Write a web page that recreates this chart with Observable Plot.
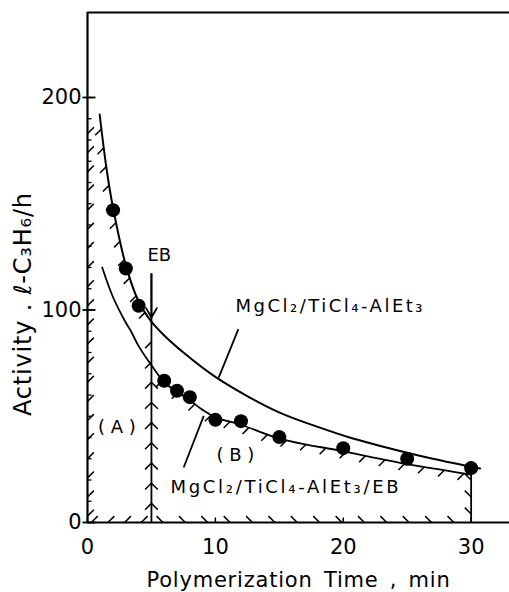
<!DOCTYPE html>
<html><head><meta charset="utf-8">
<script src="https://cdn.jsdelivr.net/npm/d3@7"></script>
<script src="https://cdn.jsdelivr.net/npm/@observablehq/plot@0.6"></script>
<style>html,body{margin:0;padding:0;background:#fff;} svg{display:block}</style>
</head><body><div id="chart"></div>
<script>
// Measured activity (filled circles)
const timeMin = [2, 3, 4, 6, 7, 8, 10, 12, 15, 20, 25, 30];
const activity = [147, 119.5, 102, 66.7, 62, 59, 48.3, 47.7, 40.2, 35, 30, 25.6];

// Curve: MgCl2/TiCl4-AlEt3 (no EB)
const noEbTime = [0.95, 1.5, 2, 3, 4, 5, 6, 7.5, 10, 12.7, 15.3, 18, 20.5, 24.2, 27, 30.7];
const noEbAct  = [192, 166, 148, 121, 104, 94.5, 88, 80, 68.5, 58.8, 51, 45, 40, 34, 30, 25.4];

// Curve: MgCl2/TiCl4-AlEt3/EB
const ebTime = [1.15, 2, 3, 3.4, 4, 5, 6, 7, 8, 9, 10, 12, 15, 20, 25, 28, 30];
const ebAct  = [120, 106, 94, 90, 83, 74, 66, 61.5, 57.5, 53, 49.5, 46, 39.5, 33.5, 27.5, 24.5, 22.5];

// EB addition time and arrow
const ebAddTime = [5];
const ebLineTop = 117;
const ebArrowTip = 96.5;
const endTime = [30];

// Axis ticks
const yTickLabels = [0, 100, 200];
const yMinorTicks = d3.range(0, 201, 10);
const xTickLabels = [0, 10, 20, 30];

// Labels
const xLabel = "Polymerization\u2002Time\u2002,\u2002min";
const yLabel = "Activity . \u2113-C\u2083H\u2086/h";
const seriesLabelA = "MgCl\u2082/TiCl\u2084-AlEt\u2083";
const seriesLabelB = "MgCl\u2082/TiCl\u2084-AlEt\u2083/EB";

const W = 509, H = 592, ML = 87, MR = 0, MT = 12, MB = 70;
const X_MAX = 33, Y_MAX = 240;
const kx = (W - ML - MR) / X_MAX, ky = (H - MT - MB) / Y_MAX;

function interp(ts, vs, t) {
  if (t <= ts[0]) return vs[0];
  for (let i = 1; i < ts.length; i++) {
    if (t <= ts[i]) { const f = (t - ts[i-1]) / (ts[i] - ts[i-1]); return vs[i-1] + f * (vs[i] - vs[i-1]); }
  }
  return vs[vs.length - 1];
}
function arcAnchors(ts, vs, t0, t1, step, start) {
  const n = 800, out = []; let acc = start, prev = null;
  for (let i = 0; i <= n; i++) {
    const t = t0 + (t1 - t0) * i / n, v = interp(ts, vs, t);
    if (prev) { acc += Math.hypot((t - prev[0]) * kx, (v - prev[1]) * ky); if (acc >= step) { acc -= step; out.push([t, v]); } }
    prev = [t, v];
  }
  return out;
}
const S = Math.SQRT1_2;
const UR = [S, -S], DL = [-S, S], UL = [-S, -S], DR = [S, S];
function hatch(anchors, dir, len = 9) {
  return anchors.map(([t, v]) => ({x1: t, y1: v, x2: t + len * dir[0] / kx, y2: v - len * dir[1] / ky}));
}
const rng = (a, b, s) => d3.range(a, b + 1e-9, s);

const hatches = [
  // region A
  ...hatch(rng(3, 183, 9).map(v => [0, v]), UR),
  ...hatch(rng(0.3, 4.3, 1.3).map(t => [t, 0]), UR),
  ...hatch(arcAnchors(noEbTime, noEbAct, 1.0, 4.95, 19, 10), DL),
  ...hatch(rng(9, 90, 9.5).map(v => [5, v]), DL),
  // region B
  ...hatch(rng(9, 66, 9.5).map(v => [5, v]), DR),
  ...hatch(rng(5.9, 29.6, 1.75).map(t => [t, 0]), UL),
  ...hatch(rng(4, 20, 8).map(v => [30, v]), UL),
  ...hatch(arcAnchors(ebTime, ebAct, 5.3, 29.8, 20, 8), DL)
];

const yMajor = yTickLabels.map(v => ({x1: -5 / kx, x2: 8 / kx, y: v}));
const yMinor = yMinorTicks.map(v => ({x1: 0, x2: 4 / kx, y: v}));
const xTicks = xTickLabels.map(t => ({x: t, y1: 0, y2: 5 / ky}));

const leaders = [
  {x1: 11.8, y1: 91, x2: 10.26, y2: 68.2},
  {x1: 9.09, y1: 50.2, x2: 7.52, y2: 25.9}
];

const noEb = noEbTime.map((t, i) => ({t, a: noEbAct[i]}));
const eb = ebTime.map((t, i) => ({t, a: ebAct[i]}));
const pts = timeMin.map((t, i) => ({t, a: activity[i]}));

const font = "DejaVu Sans";
const svg = Plot.plot({
  width: W, height: H,
  marginLeft: ML, marginRight: MR, marginTop: MT, marginBottom: MB,
  x: {domain: [0, X_MAX], axis: null},
  y: {domain: [0, Y_MAX], axis: null},
  style: {fontFamily: font, background: "#fff", color: "#000", overflow: "visible"},
  marks: [
    Plot.link(hatches, {x1: "x1", y1: "y1", x2: "x2", y2: "y2", stroke: "#000", strokeWidth: 1.5}),
    Plot.ruleX([0], {y1: 0, y2: Y_MAX, stroke: "#000", strokeWidth: 2.2}),
    Plot.ruleY([0], {x1: 0, x2: X_MAX, stroke: "#000", strokeWidth: 2.2}),
    Plot.ruleY([Y_MAX], {x1: 0, x2: X_MAX, stroke: "#000", strokeWidth: 2}),
    Plot.ruleX(ebAddTime, {y1: 0, y2: ebLineTop, stroke: "#000", strokeWidth: 1.8}),
    Plot.ruleX(endTime, {y1: 0, y2: ebAct[ebAct.length - 1], stroke: "#000", strokeWidth: 1.8}),
    Plot.link(yMajor, {x1: "x1", x2: "x2", y1: "y", y2: "y", stroke: "#000", strokeWidth: 1.8}),
    Plot.link(yMinor, {x1: "x1", x2: "x2", y1: "y", y2: "y", stroke: "#000", strokeWidth: 1.3}),
    Plot.link(xTicks, {x1: "x", x2: "x", y1: "y1", y2: "y2", stroke: "#000", strokeWidth: 1.5}),
    Plot.line(noEb, {x: "t", y: "a", curve: "catmull-rom", stroke: "#000", strokeWidth: 2}),
    Plot.line(eb, {x: "t", y: "a", curve: "catmull-rom", stroke: "#000", strokeWidth: 1.8}),
    Plot.arrow([{x: ebAddTime[0]}], {x1: "x", x2: "x", y1: () => ebLineTop, y2: () => ebArrowTip, stroke: "#000", strokeWidth: 1.8, headLength: 9}),
    Plot.link(leaders, {x1: "x1", y1: "y1", x2: "x2", y2: "y2", stroke: "#000", strokeWidth: 1.8}),
    Plot.dot(pts, {x: "t", y: "a", r: 7, fill: "#000", stroke: "none"}),
    Plot.text(yTickLabels, {x: 0, y: d => d, dx: -6, textAnchor: "end", fontSize: 21, fill: "#000"}),
    Plot.text(xTickLabels, {x: d => d, y: 0, dy: 25, fontSize: 21, fill: "#000"}),
    Plot.text([xLabel], {x: 16.5, y: 0, dy: 58, fontSize: 21, fill: "#000"}),
    Plot.text([yLabel], {x: 0, y: 102.8, dx: -64, rotate: -90, fontSize: 24, fill: "#000"}),
    Plot.text([seriesLabelA], {x: 11.57, y: 102, textAnchor: "start", fontSize: 18, fill: "#000"}),
    Plot.text([seriesLabelB], {x: 6.49, y: 16.5, textAnchor: "start", fontSize: 18, fill: "#000"}),
    Plot.text(["EB"], {x: 4.69, y: 125.6, textAnchor: "start", fontSize: 18, fill: "#000"}),
    Plot.text(["( A )"], {x: 2.3, y: 44.6, fontSize: 18, fill: "#000"}),
    Plot.text(["( B )"], {x: 11.57, y: 31.5, fontSize: 18, fill: "#000"})
  ]
});
const spacing = new Map([
  [seriesLabelA, "2.5px"], [seriesLabelB, "2.7px"],
  [xLabel, "0.8px"], [yLabel, "0.8px"]
]);
d3.select(svg).selectAll("text").each(function () {
  const s = spacing.get(this.textContent);
  if (s) this.setAttribute("letter-spacing", s);
});
document.getElementById("chart").appendChild(svg);
</script>
</body></html>
